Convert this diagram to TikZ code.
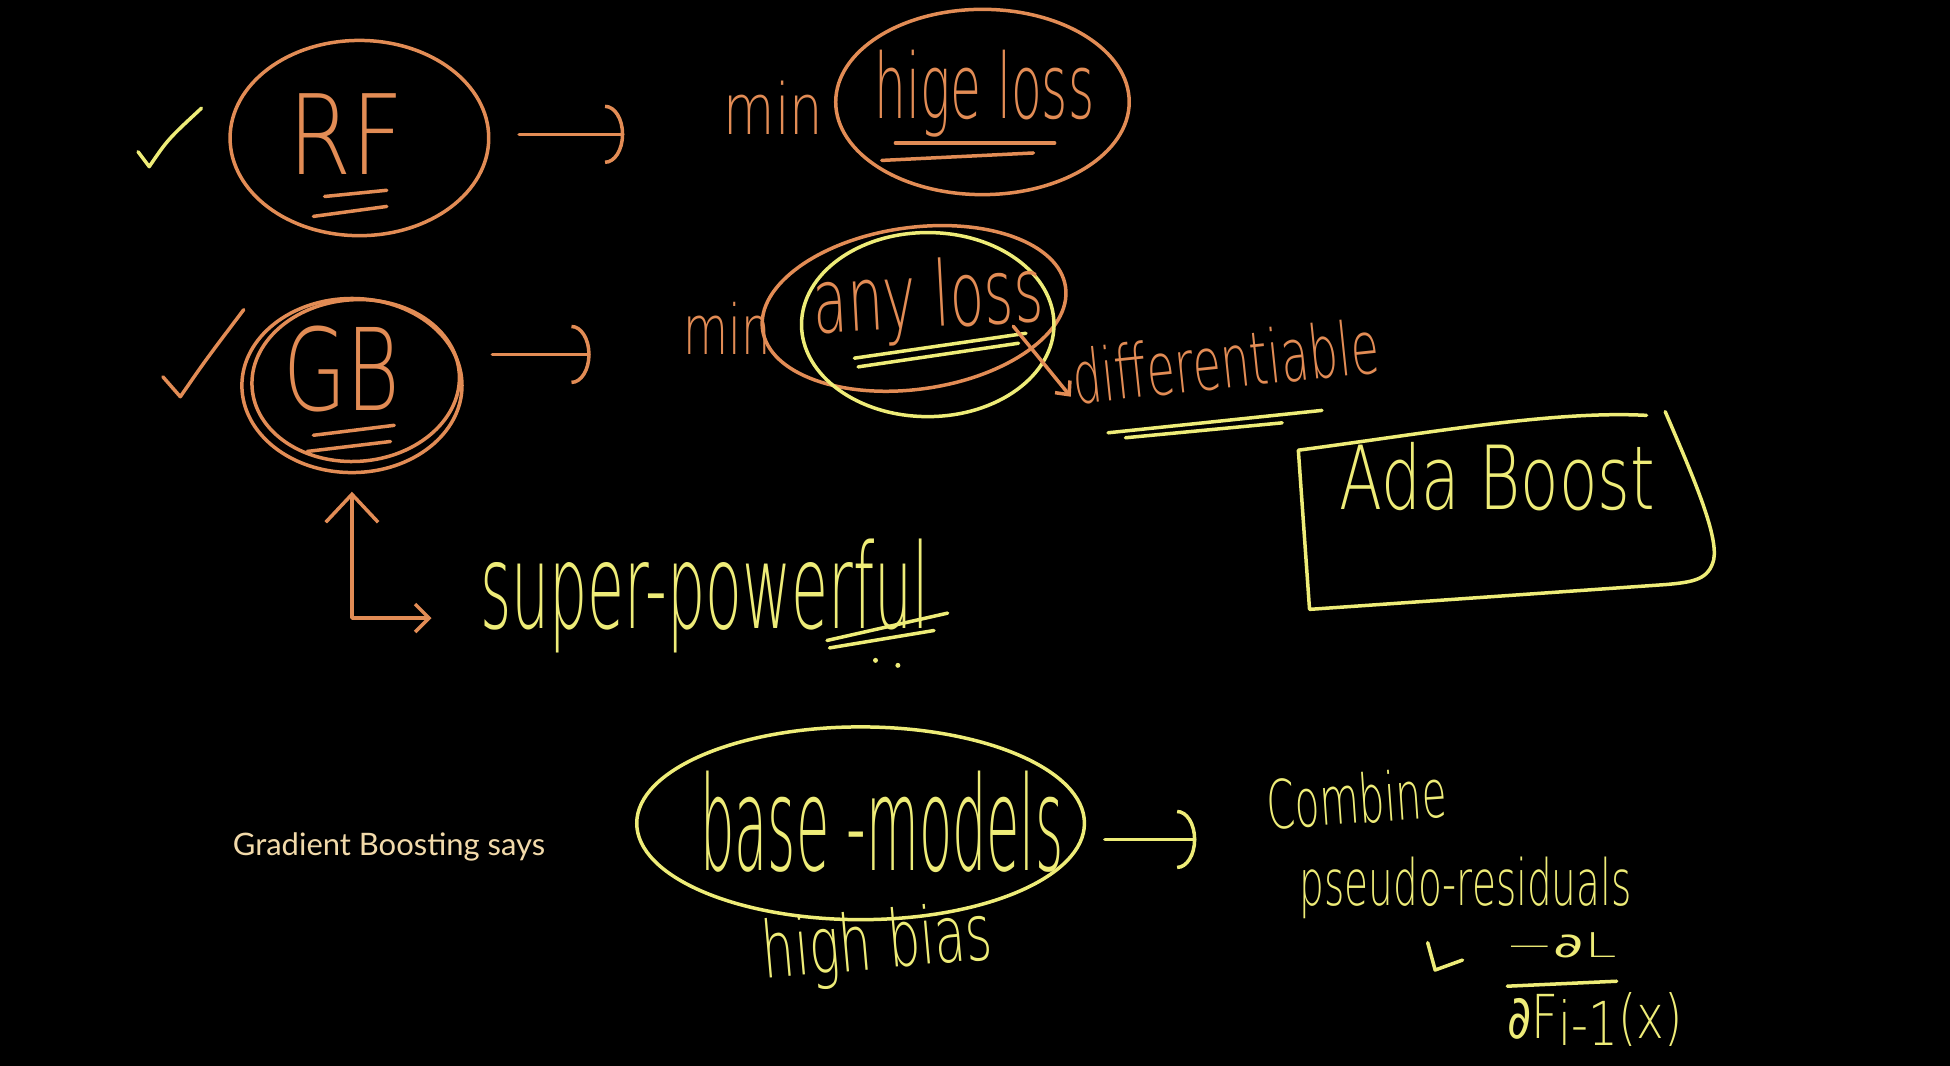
\documentclass[tikz,border=0pt]{standalone}
\usepackage{fontspec}
\usetikzlibrary{arrows.meta,shapes.geometric}
\IfFontExistsTF{DejaVu Sans ExtraLight}{\newfontfamily\hand{DejaVu Sans ExtraLight}}{\newfontfamily\hand{DejaVu Sans}}
\newfontfamily\handr{DejaVu Sans}
\newfontfamily\capfont{Lato}
\newlength\U \setlength\U{0.25mm}
\newcommand\hw[3]{\resizebox{#1\U}{#2\U}{\hand #3}}
\definecolor{orng}{RGB}{226,140,85}
\definecolor{yllw}{RGB}{238,236,120}
\definecolor{capc}{RGB}{242,218,170}
\tikzset{
  ostroke/.style={draw=orng, line width=2pt},
  ystroke/.style={draw=yllw, line width=2pt},
  htext/.style={anchor=base west, inner sep=0pt, outer sep=0pt},
  ring/.style={ellipse, inner sep=0pt},
  hookarrow/.style={-{Arc Barb[length=11pt,width=34pt]}},
}
\begin{document}
\begin{tikzpicture}[x=0.25mm, y=-0.25mm, line cap=round, line join=round]
\fill[black] (0,0) rectangle (1568,857);
\useasboundingbox (0,0) rectangle (1568,857);

% check marks
\draw[ystroke] (111,122) -- (120,134) .. controls (135,112) .. (162,87);
\draw[ostroke] (131,303) -- (145,319) .. controls (165,290) .. (196,249);

% rings
\node[ring, ostroke, minimum width=208\U, minimum height=157\U] (rfc) at (289,111) {};
\node[ring, ostroke, minimum width=236\U, minimum height=149\U] (hc) at (790,82) {};
\node[ring, ostroke, minimum width=177\U, minimum height=140\U] (gbc) at (283,310) {};
\node[ring, ostroke, minimum width=167\U, minimum height=130\U, rotate=4] (gbc2) at (286,306) {};
\node[ring, ostroke, minimum width=246\U, minimum height=130\U, rotate=8] (alo) at (735,248) {};
\node[ring, ystroke, minimum width=203\U, minimum height=148\U] (aly) at (746,261) {};
\node[ring, ystroke, minimum width=360\U, minimum height=155\U] (bmc) at (692,662) {};

% texts
\node[htext, text=orng] (rf) at (232,140) {\hw{93}{65}{RF}};
\node[htext, text=orng] (min1) at (582,108) {\hw{80}{43}{min}};
\node[htext, text=orng] (hinge) at (703,95) {\hw{177}{55}{hige loss}};
\node[htext, text=orng] (gb) at (228,330) {\hw{94}{68}{GB}};
\node[htext, text=orng] (min2) at (550,285) {\hw{70}{42}{min}};
\node[htext, text=orng, rotate=3] (anyl) at (655,268) {\hw{185}{55}{any loss}};
\node[htext, text=orng, rotate=6] (diff) at (865,325) {\hw{247}{45}{differentiable}};
\node[htext, text=yllw] (ada) at (1077,410) {\hw{254}{54}{Ada Boost}};
\node[htext, text=yllw] (sp) at (386,505) {\hw{361}{72}{super-powerful}};
\node[htext, text=yllw] (bm) at (563,700) {\hw{292}{80}{base -models}};
\node[htext, text=yllw, rotate=5] (hb) at (615,787) {\hw{185}{48}{high bias}};
\node[htext, text=yllw, rotate=4] (comb) at (1020,667) {\hw{145}{41}{Combine}};
\node[htext, text=yllw] (pr) at (1045,728) {\hw{267}{39}{pseudo-residuals}};
\node[htext, text=yllw] (num) at (1210,770) {\hw{90}{20}{−{\handr ∂}L}};
\node[htext, text=yllw] (den) at (1212,835) {\hw{141}{37}{{\handr ∂}F\raisebox{-0.2ex}{i-1}(x)}};
\node[anchor=base west, inner sep=0pt, text=capc] (cap) at (187,688) {\resizebox{251\U}{!}{\capfont Gradient Boosting says}};

% underlines
\draw[ostroke] (261,158) -- (311,153);
\draw[ostroke] (252,174) -- (311,166);
\draw[ostroke] (720,115) -- (848,115);
\draw[ostroke] (709,129) -- (831,123);
\draw[ostroke] (252,350) -- (317,342);
\draw[ostroke] (247,363) -- (314,355);
\draw[ystroke] (687,288) -- (825,268);
\draw[ystroke] (690,295) -- (819,276);
\draw[ystroke] (891,348) -- (1063,330);
\draw[ystroke] (905,352) -- (1031,340);
\draw[ystroke] (665,515) -- (762,493);
\draw[ystroke] (667,521) -- (751,507);
\fill[yllw] (704,531) circle (2);
\fill[yllw] (722,535) circle (2);
\draw[ystroke] (1212,793) -- (1300,789);

% Ada Boost box
\draw[ystroke] (1339,331) .. controls (1360,380) and (1382,430) .. (1378,450)
  .. controls (1374,466) and (1362,468) .. (1340,470) -- (1053,490) -- (1044,362)
  .. controls (1150,348) and (1250,330) .. (1324,334);

% connectors
\draw[ostroke, hookarrow, shorten <=23\U, shorten >=80\U] (rfc.east |- min1.base west) -- (min1.base west);
\draw[ostroke, hookarrow, shorten <=23\U, shorten >=75\U] (gbc.east |- min2.base west) -- (min2.base west);
\draw[ystroke, hookarrow, shorten <=15\U, shorten >=58\U] ([yshift=-8\U]bmc.east |- comb.base west) -- ([yshift=-8\U]comb.base west);
\draw[ostroke, -{Straight Barb[length=6pt,width=11pt]}] ([xshift=-25\U,yshift=-4\U]anyl.base east) -- ([xshift=-4\U,yshift=6\U]diff.base west);
\draw[ostroke, {Straight Barb[length=8pt,width=16pt]}-{Straight Barb[length=16pt,width=30pt]}]
  ([xshift=-39\U,yshift=8\U]sp.base west) -| ([yshift=-14\U]gbc.south);
\draw[ystroke] (1148,758) -- (1154,780) -- (1176,772);
\end{tikzpicture}
\end{document}
